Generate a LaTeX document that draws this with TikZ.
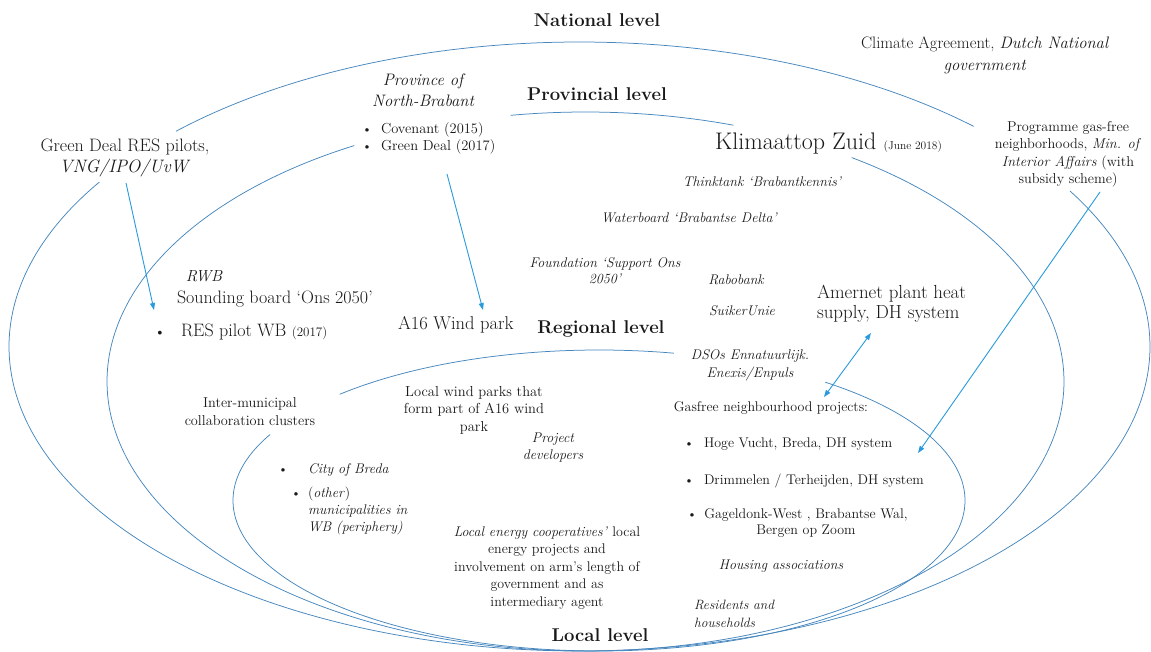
\documentclass[tikz,border=0pt]{standalone}
\usetikzlibrary{arrows.meta}
\definecolor{curvecol}{RGB}{70,135,190}
\definecolor{arrcol}{RGB}{40,155,220}
\definecolor{txt}{RGB}{25,25,25}
\begin{document}
\begin{tikzpicture}[x=1pt,y=-1pt,
  curve/.style={draw=curvecol, line width=0.75pt},
  arr/.style={draw=arrcol, line width=0.9pt, -{Triangle[length=7pt,width=5pt]}},
  darr/.style={draw=arrcol, line width=0.9pt, {Triangle[length=7pt,width=5pt]}-{Triangle[length=7pt,width=5pt]}},
  lbl/.style={inner sep=0pt, outer sep=0pt, text=txt, align=center, anchor=base},
  lblw/.style={inner sep=0pt, outer sep=0pt, text=txt, align=left, anchor=base west},
  lev/.style={font=\fontsize{18.5}{22}\selectfont\bfseries},
  big/.style={font=\fontsize{18}{21}\selectfont},
  med/.style={font=\fontsize{14}{17.5}\selectfont},
  sml/.style={font=\fontsize{14}{17.5}\selectfont\itshape},
  bul/.style={inner sep=0pt, outer sep=0pt, text=txt, anchor=base, font=\fontsize{13}{15}\selectfont}
]
\fill[white] (0,0) rectangle (1151,652);
\useasboundingbox (0,0) rectangle (1151,652);

% ---- nested level curves (ellipses with gaps) ----
% National
\draw[curve] plot[domain=-135:-46.3, samples=150] ({579.5+570.5*cos(\x)},{346.5+304.5*sin(\x)});
\draw[curve] plot[domain=-30.7:212.7, samples=300] ({579.5+570.5*cos(\x)},{346.5+304.5*sin(\x)});
% Provincial
\draw[curve] plot[domain=-99:-72, samples=60] ({585.5+478.5*cos(\x)},{381.5+269.5*sin(\x)});
\draw[curve] plot[domain=-56.2:241.1, samples=300] ({585.5+478.5*cos(\x)},{381.5+269.5*sin(\x)});
% Regional
\draw[curve] plot[domain=-135.1:-78.2, samples=100] ({599+366*cos(\x)},{500.5+150.5*sin(\x)});
\draw[curve] plot[domain=-51.8:206, samples=300] ({599+366*cos(\x)},{500.5+150.5*sin(\x)});

% ---- level labels ----
\node[lbl,lev] (national) at (597,27) {National level};
\node[lbl,lev] (provincial) at (597,101) {Provincial level};
\node[lbl,lev] (regional) at (601,333) {Regional level};
\node[lbl,lev] (local) at (600,641) {Local level};

% ---- national level ----
\node[lbl,font=\fontsize{16.6}{22}\selectfont] (climate) at (985,71) {Climate Agreement, \textit{Dutch National}\\\textit{government}};
\node[lbl,font=\fontsize{14.3}{17.6}\selectfont] (programme) at (1068,184) {Programme gas-free\\neighborhoods, \textit{Min. of}\\\textit{Interior Affairs} (with\\subsidy scheme)};
\node[lbl,big] (greendeal) at (125,173) {Green Deal RES pilots,\\\textit{VNG/IPO/UvW}};

% ---- provincial level ----
\node[lbl,font=\fontsize{16.6}{21}\selectfont\itshape] (province) at (423,107) {Province of\\North-Brabant};
\node[bul] (bcov) at (367,134) {\textbullet};
\node[lblw,font=\fontsize{14.5}{17}\selectfont] (covenant) at (381,134) {Covenant (2015)};
\node[bul] (bgd) at (367,151) {\textbullet};
\node[lblw,font=\fontsize{14.5}{17}\selectfont] (gdeal) at (381,151) {Green Deal (2017)};
\node[lblw,font=\fontsize{24}{26}\selectfont] (klimaat) at (715,150) {Klimaattop Zuid {\fontsize{11.5}{13}\selectfont(June 2018)}};
\node[lbl,sml] (think) at (762,187) {Thinktank ‘Brabantkennis’};
\node[lbl,sml] (water) at (689,223) {Waterboard ‘Brabantse Delta’};
\node[lbl,font=\fontsize{14}{17}\selectfont\itshape] (found) at (605,284) {Foundation ‘Support Ons\\2050’};
\node[lbl,sml] (rabo) at (736,285) {Rabobank};
\node[lbl,sml] (suiker) at (742,316) {SuikerUnie};
\node[lblw,font=\fontsize{18.9}{20}\selectfont] (amernet) at (817,318) {Amernet plant heat\\supply, DH system};
\node[lbl,font=\fontsize{16}{19}\selectfont\itshape] (rwb) at (204,282) {RWB};
\node[lblw,big] (sounding) at (177,304) {Sounding board ‘Ons 2050’};
\node[bul,font=\fontsize{14}{16}\selectfont] (bres) at (160,337) {\textbullet};
\node[lblw,big] (respilot) at (181,337) {RES pilot WB {\fontsize{13}{14}\selectfont(2017)}};
\node[lblw,font=\fontsize{18.5}{21}\selectfont] (a16) at (398,330) {A16 Wind park};

% ---- regional level ----
\node[lbl,font=\fontsize{14}{18}\selectfont\itshape] (dso) at (750,377) {DSOs Ennatuurlijk.\\Enexis/Enpuls};
\node[lbl,font=\fontsize{14.3}{18}\selectfont] (inter) at (250,425) {Inter-municipal\\collaboration clusters};
\node[lbl,font=\fontsize{14.5}{17.5}\selectfont] (localwind) at (474,431) {Local wind parks that\\form part of A16 wind\\park};
\node[lbl,font=\fontsize{14}{17}\selectfont\itshape] (projdev) at (553,459) {Project\\developers};
\node[bul] (bbreda) at (283,473) {\textbullet};
\node[lblw,sml] (breda) at (308,473) {City of Breda};
\node[bul] (bother) at (296,497) {\textbullet};
\node[lblw,font=\fontsize{14}{17}\selectfont\itshape] (other) at (308,531) {\textup{(}other\textup{)}\\municipalities in\\WB (periphery)};
\node[lbl,med] (gasfree) at (771,411) {Gasfree neighbourhood projects:};
\node[bul] (bhoge) at (689,447) {\textbullet};
\node[lblw,med] (hoge) at (704,447) {Hoge Vucht, Breda, DH system};
\node[bul] (bdrim) at (689,484) {\textbullet};
\node[lblw,med] (drim) at (704,484) {Drimmelen / Terheijden, DH system};
\node[bul] (bgag) at (692,518) {\textbullet};
\node[lbl,font=\fontsize{14}{16}\selectfont] (gag) at (806,534) {Gageldonk-West , Brabantse Wal,\\Bergen op Zoom};
\node[lbl,sml] (housing) at (781,569) {Housing associations};
\node[lblw,font=\fontsize{13.5}{18}\selectfont\itshape] (residents) at (694,627) {Residents and\\households};
\node[lbl,med] (coop) at (547,606) {\textit{Local energy cooperatives’} local\\energy projects and\\involvement on arm’s length of\\government and as\\intermediary agent};

% ---- connectors ----
\coordinate (gdA) at (126,183);
\coordinate (gdB) at (154,310);
\coordinate (pvA) at (447,174);
\coordinate (pvB) at (483,310);
\coordinate (amA) at (871,333);
\coordinate (amB) at (824,397);
\coordinate (prA) at (1100,192);
\coordinate (prB) at (918,453);
\draw[arr] (gdA) -- (gdB);
\draw[arr] (pvA) -- (pvB);
\draw[darr] (amA) -- (amB);
\draw[arr] (prA) -- (prB);
\end{tikzpicture}
\end{document}
